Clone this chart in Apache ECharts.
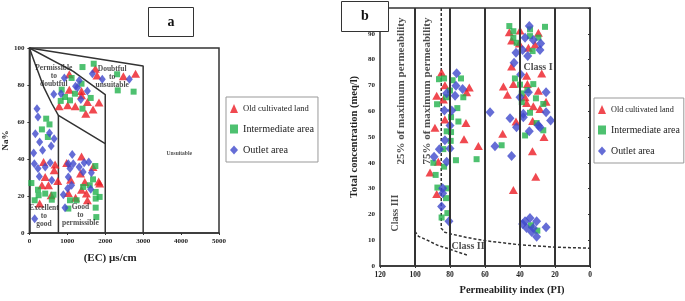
<!DOCTYPE html>
<html>
<head>
<meta charset="utf-8">
<style>
  html, body { margin: 0; padding: 0; background: #fff; }
  #main { width: 685px; height: 301px; }
</style>
<script src="https://cdn.jsdelivr.net/npm/echarts@6/dist/echarts.min.js"></script>
</head>
<body>
<div id="main"></div>
<script>
// panel a : Wilcox diagram, [EC, Na%]
const wilcoxOld = [
  [1052, 85.8], [1052, 77.5], [783, 68.5], [1009, 69], [1209, 68.5], [1374, 76.8], [1374, 74.4],
  [1487, 64.5], [1678, 66.7], [1835, 70.6], [1530, 70.8], [1739, 88.8], [1783, 85.2], [2478, 84.7],
  [2800, 86.1],
  [374, 38.4], [417, 30.3], [678, 37], [652, 33.9], [330, 25.8], [504, 25.8], [574, 20.4],
  [270, 15.9], [748, 28.1],
  [983, 37.8], [1374, 41.4], [1678, 35.7], [1348, 32.1], [1087, 28.8], [1461, 27.6], [1826, 27.9],
  [1374, 23.4], [1504, 21.3], [1026, 21.6], [1217, 19.1], [1530, 17.7], [1852, 26.7]
]
const wilcoxMid = [
  [1400, 89.7], [1696, 91.5], [1113, 83.8], [852, 77.5], [826, 71.4], [939, 73.5], [1070, 71.7],
  [1200, 75.3], [1374, 80.7], [1400, 67.2], [1617, 73], [2313, 85.8], [2330, 77.1], [2748, 76.4],
  [443, 61.8], [330, 56], [530, 58.7], [487, 51.9], [52, 27], [226, 23.4], [139, 17.7],
  [243, 20.4], [417, 21.3], [591, 18], [635, 20.7],
  [1739, 36.2], [1417, 24.9], [1591, 25.8], [1678, 29], [1070, 17.7], [1244, 17.7], [1748, 22.2],
  [1748, 18.6], [1852, 19.5], [1748, 13.7], [1765, 8.6], [1026, 13.2]
]
const wilcoxOutlet = [
  [922, 83.8], [643, 75], [835, 75.3], [1217, 79.3], [1313, 82.5], [1357, 72.1], [1530, 76.8],
  [1661, 86.1], [1922, 83.1], [2635, 83.1], [1270, 78.6],
  [200, 67.2], [226, 62.7], [157, 53.7], [270, 49.2], [530, 54], [574, 47], [652, 51], [348, 44.7],
  [113, 43.2], [130, 37.5], [226, 34.8], [417, 35.7], [548, 38], [261, 30.6], [591, 28.5], [139, 7.7],
  [1130, 42.5], [1026, 37.5], [1157, 37.5], [1070, 34.8], [1313, 35.7], [1444, 38], [1565, 38.4],
  [1417, 33], [1635, 32.6], [1026, 30.3], [1113, 25.8], [1009, 24], [896, 20.7], [1617, 23.6], [939, 13.7]
]

// wilcox class boundaries
const wilcoxTop = [[0, 100], [3000, 90.3], [3000, 0]]
const wilcoxDoubtful = [[0, 100], [1157, 87.4], [2000, 74.8], [2000, 0]]
const wilcoxGood = [[0, 100], [150, 91.5], [375, 79], [590, 70], [765, 63.6], [2000, 48.3]]
const wilcoxExcellent = [[765, 63.6], [765, 0]]

// panel b : Doneen diagram, [PI, total concentration]
const piOld = [
  [84.8, 75], [82.9, 70.1], [87.6, 66], [83.8, 64.5], [70.5, 67.3], [69, 69.2], [70.9, 55.4],
  [72, 49.1], [82.9, 56.8], [88.6, 53.6], [86.7, 40.4], [91.4, 36.2], [87.6, 27.9], [63.8, 46.5],
  [46.1, 90.6], [40, 91.3], [29.5, 90.4], [44.8, 87.4], [40.4, 86.2], [35.2, 84.6], [31.4, 85.9],
  [44.8, 77.3], [27.6, 74.6],
  [36.2, 73.7], [35.8, 70.5], [49.5, 69.6], [43.8, 70.5], [47.2, 66.4], [37.1, 65.4], [29.5, 67.9],
  [25.1, 63.7], [36.2, 63.2], [32.4, 61.9], [28.6, 60.9], [42.3, 56], [32.8, 56.2], [49.9, 51.3],
  [26.3, 50], [32.9, 44.5], [31, 34.6], [43.8, 29.5]
]
const piMid = [
  [86.3, 72.4], [83.4, 72.7], [73.7, 72.7], [78.5, 72], [80, 68], [82.3, 65.4], [72.4, 65.4],
  [87.4, 62.7], [75.8, 61.2], [75.2, 56], [79.4, 57.7], [81.9, 52.2], [79.4, 51.9], [79.6, 48.5],
  [83.8, 45.3], [89.5, 40], [88.2, 35.3], [87.2, 30.4], [81.5, 30.1], [82.3, 26.3], [84.8, 18.8],
  [81.5, 20.5], [76.6, 41], [64.8, 41.4], [83.4, 38.5],
  [46.1, 93], [43.8, 91], [43.8, 88.5], [41.9, 86.5], [34.3, 91.7], [34.3, 89.1], [29.5, 88.5],
  [25.7, 92.7], [32.8, 83.3],
  [42.9, 72.7], [40, 70.3], [32.4, 70.5], [39, 66.9], [35.8, 68.2], [30.9, 65], [39, 63.5],
  [34.3, 59.4], [26.7, 62.8], [30.5, 55.4], [26.7, 52.6], [37.1, 50.6], [50.5, 46.8],
  [33.7, 15.8], [30.1, 13.7]
]
const piOutlet = [
  [76.2, 74.7], [76.6, 69.9], [72.8, 68.6], [77.1, 66], [81.9, 67], [83.2, 60.3], [79, 60.3],
  [80, 54.5], [82.9, 48.7], [86.1, 45.3], [80, 45.5], [89.1, 42.3], [81.9, 40.4], [84.2, 30.1],
  [84.2, 28.2], [84.8, 23.1], [80.6, 17.3], [57.1, 59.6], [54.3, 46.4], [44.8, 42.6], [45.7, 57.3],
  [34.7, 93], [37.1, 88.5], [32.4, 87.6], [28.2, 86.2], [38.5, 83.7], [42.3, 82.7], [28.6, 83.7],
  [35.6, 81.4], [43.4, 78.8],
  [39.6, 74.2], [35.2, 67.3], [40, 65.4], [25.1, 67.3], [38.1, 59], [38.1, 57.7], [25.1, 59.6],
  [22.5, 56.4], [29.5, 54.5], [42, 53.8], [34.7, 52.2], [28.6, 53.8],
  [37.1, 17.3], [34.3, 18.6], [30.5, 17.3], [36.2, 14.7], [33.3, 13.2], [30.5, 11.3], [25.1, 15],
  [38.5, 16.3], [32.4, 14.7]
]

// doneen class boundaries
const piClassLines = [100, 80, 60, 40, 20]
const pi75Curve = [[85, 100], [85, 14.6], [83, 13.1], [80, 12.5], [70, 11], [60, 9.8], [40, 8.2], [20, 7.3], [0, 6.9]]
const pi25Curve = [[100, 13.4], [98, 11.5], [93, 10], [87, 8], [80, 6.5], [75, 5.3], [70, 4.2]]

const seriesNames = ['Old cultivated land', 'Intermediate area', 'Outlet area']
const colors = ['#ec1c24', '#22b24c', '#3f48cc']

const serif = 'Liberation Serif'

const chart = echarts.init(document.getElementById('main'))

function boundLine(data, grid, width, type) {
  return {
    type: 'line',
    xAxisIndex: grid,
    yAxisIndex: grid,
    data: data,
    symbol: 'none',
    silent: true,
    lineStyle: { color: '#333', width: width || 1.5, type: type || 'solid' },
    z: 1
  }
}

function textSeries(grid, items) {
  return {
    type: 'scatter',
    xAxisIndex: grid,
    yAxisIndex: grid,
    symbolSize: 0,
    silent: true,
    z: 5,
    data: items.map(t => ({
      value: [t[0], t[1]],
      label: {
        show: true,
        position: 'inside',
        formatter: t[2],
        rotate: t[3] || 0,
        fontFamily: serif,
        fontWeight: 'bold',
        fontSize: t[4],
        lineHeight: t[5] || t[4],
        color: '#222'
      }
    }))
  }
}

const axisLabelStyle = { fontFamily: serif, fontWeight: 'bold', color: '#222', formatter: v => String(v) }

function legendFor(left, top, sizes) {
  return {
    left: left,
    top: top,
    orient: 'vertical',
    padding: [7, 4, 7, 4],
    itemGap: 11,
    itemWidth: 8,
    itemHeight: 9,
    borderColor: '#999',
    borderWidth: 1,
    backgroundColor: '#fff',
    selectedMode: false,
    textStyle: { fontFamily: serif, color: '#222' },
    data: [
      { name: seriesNames[0], icon: 'triangle', textStyle: { fontSize: sizes[0] } },
      { name: seriesNames[1], icon: 'rect', textStyle: { fontSize: sizes[1] } },
      { name: seriesNames[2], icon: 'diamond', textStyle: { fontSize: sizes[2] } }
    ]
  }
}

const option = {
  animation: false,
  backgroundColor: '#fff',
  color: colors,
  legend: [legendFor(226, 97, [8.6, 10.2, 10.2]), legendFor(594, 98, [8.2, 9.9, 9.9])],
  grid: [
    { left: 27, top: 48, width: 192, height: 185, show: true, borderColor: '#333', borderWidth: 1.5 },
    { left: 380, top: 8, width: 210, height: 264, show: true, borderColor: '#333', borderWidth: 1.5 }
  ],
  xAxis: [
    {
      gridIndex: 0, type: 'value', min: 0, max: 5000, interval: 1000,
      axisLine: { lineStyle: { color: '#333', width: 1.5 } },
      axisTick: { length: 2, lineStyle: { color: '#333' } },
      splitLine: { show: false },
      axisLabel: Object.assign({ fontSize: 7, margin: 5 }, axisLabelStyle),
      name: '(EC) µs/cm', nameLocation: 'middle', nameGap: 20,
      nameTextStyle: { fontFamily: serif, fontWeight: 'bold', fontSize: 11, color: '#222', padding: [0, 28, 0, 0] }
    },
    {
      gridIndex: 1, type: 'value', min: 0, max: 120, interval: 20, inverse: true,
      axisLine: { lineStyle: { color: '#333', width: 1.5 } },
      axisTick: { length: 2, lineStyle: { color: '#333' } },
      splitLine: { show: false },
      axisLabel: Object.assign({ fontSize: 7.5, margin: 5 }, axisLabelStyle),
      name: 'Permeability index (PI)', nameLocation: 'middle', nameGap: 19,
      nameTextStyle: { fontFamily: serif, fontWeight: 'bold', fontSize: 10.5, color: '#222', padding: [0, 0, 0, 54] }
    }
  ],
  yAxis: [
    {
      gridIndex: 0, type: 'value', min: 0, max: 100, interval: 20,
      axisLine: { lineStyle: { color: '#333', width: 1.5 } },
      axisTick: { length: 2, lineStyle: { color: '#333' } },
      splitLine: { show: false },
      axisLabel: Object.assign({ fontSize: 7, margin: 5 }, axisLabelStyle),
      name: 'Na%', nameLocation: 'middle', nameGap: 19,
      nameTextStyle: { fontFamily: serif, fontWeight: 'bold', fontSize: 9, color: '#222' }
    },
    {
      gridIndex: 1, type: 'value', min: 0, max: 100, interval: 10,
      axisLine: { lineStyle: { color: '#333', width: 1.5 } },
      axisTick: { length: 2, lineStyle: { color: '#333' } },
      splitLine: { show: false },
      axisLabel: Object.assign({}, axisLabelStyle, { fontSize: 7, margin: 5, formatter: v => (v === 100 ? '' : String(v)) }),
      name: 'Total concentration (meq/l)', nameLocation: 'middle', nameGap: 20,
      nameTextStyle: { fontFamily: serif, fontWeight: 'bold', fontSize: 10.5, color: '#222' }
    }
  ],
  graphic: [
    {
      type: 'group', left: 148, top: 7, z: 100,
      children: [
        { type: 'rect', shape: { x: 0, y: 0, width: 45, height: 29 }, style: { fill: '#fff', stroke: '#333', lineWidth: 1 } },
        { type: 'text', x: 22.5, y: 14.5, style: { text: 'a', font: 'bold 14px "Liberation Serif"', fill: '#111', align: 'center', verticalAlign: 'middle' } }
      ]
    },
    {
      type: 'group', left: 341, top: 1, z: 100,
      children: [
        { type: 'rect', shape: { x: 0, y: 0, width: 47, height: 30 }, style: { fill: '#fff', stroke: '#333', lineWidth: 1 } },
        { type: 'text', x: 23.5, y: 15, style: { text: 'b', font: 'bold 14px "Liberation Serif"', fill: '#111', align: 'center', verticalAlign: 'middle' } }
      ]
    }
  ],
  series: [
    boundLine(wilcoxTop, 0),
    boundLine(wilcoxDoubtful, 0),
    boundLine(wilcoxGood, 0),
    boundLine(wilcoxExcellent, 0),
    {
      type: 'line', xAxisIndex: 1, yAxisIndex: 1, data: [], silent: true,
      markLine: {
        silent: true, symbol: ['none', 'none'], label: { show: false },
        lineStyle: { color: '#333', width: 2, type: 'solid' },
        data: piClassLines.map(v => ({ xAxis: v }))
      }
    },
    boundLine(pi75Curve, 1, 1.5, [3, 2]),
    boundLine(pi25Curve, 1, 1.5, [3, 2]),
    textSeries(0, [
      [643, 84.7, 'Permissible\nto\ndoubtful', 0, 7.5, 8],
      [2182, 84.2, 'Doubtful\nto\nunsuitable', 0, 7.5, 8],
      [383, 9.0, 'Excellent\nto\ngood', 0, 7.5, 8],
      [1346, 9.6, 'Good\nto\npermissible', 0, 7.5, 8],
      [3950, 43.1, 'Unsuitable', 0, 5.5]
    ]),
    textSeries(1, [
      [108, 67.8, '25% of maximum permeability', 90, 11],
      [93.1, 67.8, '75% of maximum permeability', 90, 11],
      [111.4, 20.5, 'Class III', 90, 10],
      [29.7, 76.9, 'Class I', 0, 10],
      [69.7, 7.6, 'Class II', 0, 10]
    ]),
    { name: seriesNames[0], type: 'scatter', xAxisIndex: 0, yAxisIndex: 0, symbol: 'triangle', symbolSize: [9, 8], data: wilcoxOld, z: 3 },
    { name: seriesNames[1], type: 'scatter', xAxisIndex: 0, yAxisIndex: 0, symbol: 'rect', symbolSize: 6, data: wilcoxMid, z: 3 },
    { name: seriesNames[2], type: 'scatter', xAxisIndex: 0, yAxisIndex: 0, symbol: 'diamond', symbolSize: [7, 9], data: wilcoxOutlet, z: 3 },
    { name: seriesNames[0], type: 'scatter', xAxisIndex: 1, yAxisIndex: 1, symbol: 'triangle', symbolSize: [9, 8], data: piOld, z: 3 },
    { name: seriesNames[1], type: 'scatter', xAxisIndex: 1, yAxisIndex: 1, symbol: 'rect', symbolSize: 6, data: piMid, z: 3 },
    { name: seriesNames[2], type: 'scatter', xAxisIndex: 1, yAxisIndex: 1, symbol: 'diamond', symbolSize: [9, 10], data: piOutlet, z: 3 }
  ]
}

chart.setOption(option)
</script>
</body>
</html>
